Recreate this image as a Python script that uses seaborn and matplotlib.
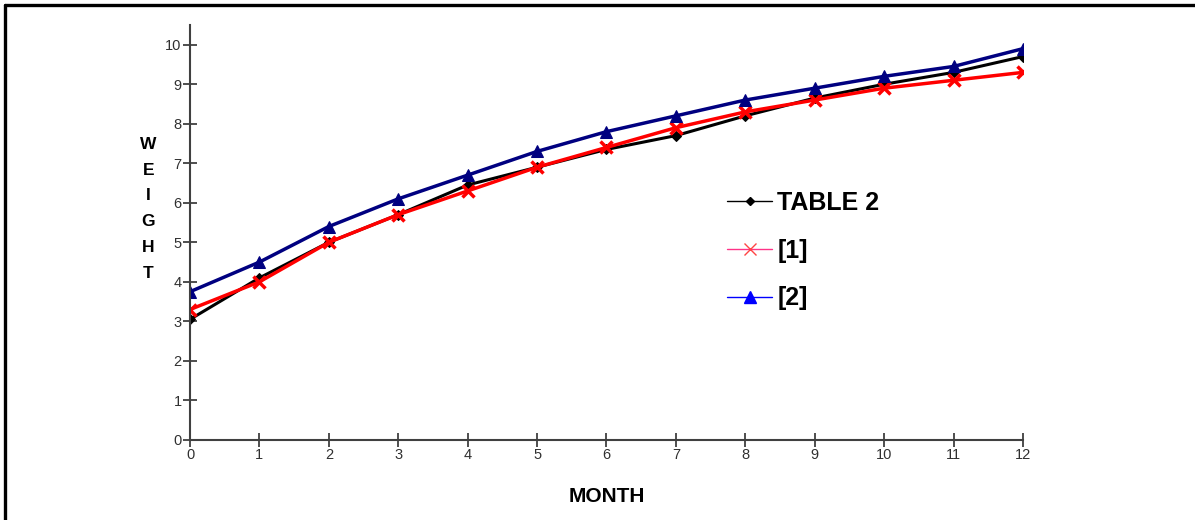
import pandas as pd
import numpy as np
import matplotlib.pyplot as plt
from matplotlib.lines import Line2D
import seaborn as sns

sns.set_style("white")
plt.rcParams['font.family'] = ['Liberation Sans', 'DejaVu Sans']
plt.rcParams['text.color'] = 'black'
plt.rcParams['axes.labelcolor'] = 'black'

months = list(range(13))
table2 = [3.05, 4.1, 5.0, 5.7, 6.45, 6.9, 7.35, 7.7, 8.2, 8.65, 9.0, 9.3, 9.7]
ref1   = [3.3, 4.0, 5.0, 5.7, 6.3, 6.9, 7.4, 7.9, 8.3, 8.6, 8.9, 9.1, 9.3]
ref2   = [3.75, 4.5, 5.4, 6.1, 6.7, 7.3, 7.8, 8.2, 8.6, 8.9, 9.2, 9.45, 9.9]
series_names = ['TABLE 2', '[1]', '[2]']

df = pd.DataFrame({'month': months * 3,
                   'weight': table2 + ref1 + ref2,
                   'series': np.repeat(series_names, len(months))})

fig = plt.figure(figsize=(11.95, 5.2), dpi=100)
ax = fig.add_axes([0.159, 0.154, 0.697, 0.798])

# line styles per series (drawn in this order so blue ends up on top)
styles = {
    'TABLE 2': dict(color='black', marker='D', markersize=5, markeredgecolor='black', linewidth=2.2),
    '[1]':     dict(color='#ff0000', marker='x', markersize=9, markeredgecolor='#ff0000',
                    markeredgewidth=2.5, linewidth=2.5),
    '[2]':     dict(color='#000080', marker='^', markersize=9, markeredgecolor='#000080', linewidth=2.5),
}
for name in series_names:
    sub = df[df['series'] == name]
    sns.lineplot(data=sub, x='month', y='weight', ax=ax, legend=False, **styles[name])

ax.set_xlim(0, 12)
ax.set_ylim(0, 10.5)
ax.set_xticks(months)
ax.set_yticks(range(11))
for s in ['top', 'right']:
    ax.spines[s].set_visible(False)
for s in ['left', 'bottom']:
    ax.spines[s].set_color('#404040')
    ax.spines[s].set_linewidth(1.5)
ax.tick_params(bottom=True, left=True, direction='inout', length=10, width=1.2, color='#303030',
               labelsize=10.5, labelcolor='#303030', pad=1)
ax.set_xlabel('MONTH', fontsize=15, fontweight='bold', labelpad=18)
ax.set_ylabel('')

fig.text(0.124, 0.737, 'W\nE\nI\nG\nH\nT', fontsize=12.5, fontweight='bold',
         ha='center', va='top', linespacing=1.9)

handles = [
    Line2D([], [], color='black', marker='D', markersize=4, linewidth=1),
    Line2D([], [], color='#ff3388', marker='x', markersize=8, markeredgecolor='#ff4444', linewidth=1),
    Line2D([], [], color='#0000ff', marker='^', markersize=8, linewidth=1),
]
ax.legend(handles, series_names, frameon=False, loc='upper left',
          bbox_to_anchor=(0.645, 0.60), borderpad=0, borderaxespad=0,
          prop={'weight': 'bold', 'size': 18}, labelspacing=0.95,
          handlelength=1.8, handletextpad=0.2)

# outer frame (only top and left edges are visible in the crop)
fig.add_artist(Line2D([0.0046, 1.0], [0.9895, 0.9895], color='black', linewidth=2.4))
fig.add_artist(Line2D([0.0046, 0.0046], [0.0, 0.9895], color='black', linewidth=2.4))

plt.savefig('out.png', dpi=100)
